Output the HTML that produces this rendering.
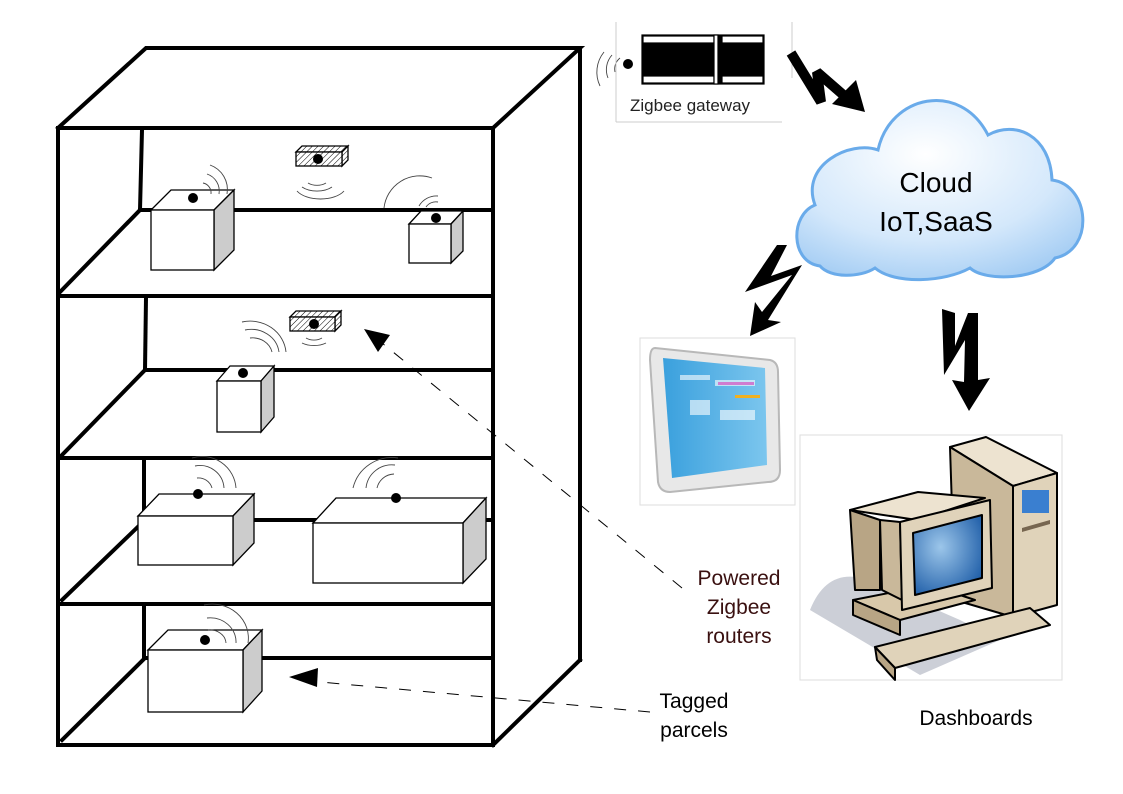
<!DOCTYPE html>
<html><head><meta charset="utf-8"><style>
html,body{margin:0;padding:0;background:#fff}
svg{display:block}
text{font-family:"Liberation Sans",sans-serif}
</style></head><body>
<svg width="1123" height="794" viewBox="0 0 1123 794" xmlns="http://www.w3.org/2000/svg">
<defs>
<pattern id="h" width="4" height="4" patternUnits="userSpaceOnUse" patternTransform="rotate(45)"><rect width="4" height="4" fill="#fff"/><line x1="0" y1="0" x2="0" y2="4" stroke="#000" stroke-width="1"/></pattern>
<radialGradient id="cg" cx="0.45" cy="0.3" r="0.8"><stop offset="0" stop-color="#ffffff"/><stop offset="0.6" stop-color="#d4e8fb"/><stop offset="1" stop-color="#9cc8f2"/></radialGradient>
<radialGradient id="sg" cx="0.4" cy="0.4" r="0.7"><stop offset="0" stop-color="#9cc6ea"/><stop offset="1" stop-color="#1f5ea8"/></radialGradient>
<linearGradient id="tg" x1="0" x2="1"><stop offset="0" stop-color="#3aa0dd"/><stop offset="1" stop-color="#7cc6ee"/></linearGradient>
</defs>

<g stroke="#000" stroke-width="4" fill="none" stroke-linecap="square">
<rect x="58" y="128" width="435" height="617"/>
<polyline points="58,128 146,48 580,48 493,128"/>
<line x1="580" y1="48" x2="580" y2="660"/>
<line x1="580" y1="660" x2="493" y2="745"/>
<line x1="58" y1="296" x2="493" y2="296"/>
<line x1="58" y1="458" x2="493" y2="458"/>
<line x1="58" y1="604" x2="493" y2="604"/>
<line x1="140" y1="210" x2="493" y2="210"/>
<line x1="145" y1="370" x2="493" y2="370"/>
<line x1="145" y1="520" x2="493" y2="520"/>
<line x1="145" y1="658" x2="493" y2="658"/>
<line x1="142" y1="130" x2="140" y2="210"/>
<line x1="146" y1="298" x2="145" y2="370"/>
<line x1="144" y1="461" x2="144" y2="520"/>
<line x1="144" y1="607" x2="144" y2="658"/>
<line x1="60" y1="292" x2="140" y2="210"/>
<line x1="62" y1="455" x2="145" y2="370"/>
<line x1="62" y1="600" x2="145" y2="520"/>
<line x1="62" y1="740" x2="145" y2="658"/>
</g>

<g stroke="#000" stroke-width="1.3">
<polygon points="151,210 171,190 234,190 214,210" fill="#fff"/>
<polygon points="214,210 234,190 234,250 214,270" fill="#ccc"/>
<rect x="151" y="210" width="63" height="60" fill="#fff"/>
<polygon points="409,224 421,211 463,211 451,224" fill="#fff"/>
<polygon points="451,224 463,211 463,251 451,263" fill="#ccc"/>
<rect x="409" y="224" width="42" height="39" fill="#fff"/>
<polygon points="217,381 230,366 274,366 261,381" fill="#fff"/>
<polygon points="261,381 274,366 274,417 261,432" fill="#ccc"/>
<rect x="217" y="381" width="44" height="51" fill="#fff"/>
<polygon points="138,516 159,494 254,494 233,516" fill="#fff"/>
<polygon points="233,516 254,494 254,543 233,565" fill="#ccc"/>
<rect x="138" y="516" width="95" height="49" fill="#fff"/>
<polygon points="313,523 336,498 486,498 463,523" fill="#fff"/>
<polygon points="463,523 486,498 486,559 463,583" fill="#ccc"/>
<rect x="313" y="523" width="150" height="60" fill="#fff"/>
<polygon points="148,650 168,630 262,630 243,650" fill="#fff"/>
<polygon points="243,650 262,630 262,691 243,712" fill="#ccc"/>
<rect x="148" y="650" width="95" height="62" fill="#fff"/>
<polygon points="296,152 302,146 348,146 342,152" fill="url(#h)"/>
<polygon points="342,152 348,146 348,160 342,166" fill="url(#h)"/>
<rect x="296" y="152" width="46" height="14" fill="url(#h)"/>
<polygon points="290,317 296,311 341,311 335,317" fill="url(#h)"/>
<polygon points="335,317 341,311 341,325 335,331" fill="url(#h)"/>
<rect x="290" y="317" width="45" height="14" fill="url(#h)"/>
</g>
<g fill="#000">
<circle cx="193" cy="198" r="5"/><circle cx="436" cy="218" r="5"/>
<circle cx="243" cy="373" r="5"/><circle cx="198" cy="494" r="5"/>
<circle cx="396" cy="498" r="5"/><circle cx="205" cy="640" r="5"/>
<circle cx="318" cy="159" r="5"/><circle cx="314" cy="324" r="5"/>
<circle cx="628" cy="64" r="5"/>
</g>
<g stroke="#444" stroke-width="0.9" fill="none">
<path d="M203 183 A10 10 0 0 1 211 194"/><path d="M207 174 A18 18 0 0 1 219 194"/><path d="M210 165 A26 26 0 0 1 227 194"/>
<path d="M308 183 A14 10 0 0 0 326 183"/><path d="M302 187 A20 12 0 0 0 332 187"/><path d="M297 191 A26 14 0 0 0 344 191"/>
<path d="M426 207 A12 12 0 0 1 438 202"/><path d="M419 206 A20 20 0 0 1 438 196"/><path d="M384 208 A36 36 0 0 1 432 178"/>
<path d="M250 338 A20 18 0 0 1 272 352"/><path d="M245 330 A28 26 0 0 1 279 352"/><path d="M242 322 A36 34 0 0 1 286 352"/>
<path d="M306 338 A12 8 0 0 0 322 338"/><path d="M302 343 A18 10 0 0 0 326 343"/>
<path d="M197 478 A14 14 0 0 1 212 488"/><path d="M195 466 A24 24 0 0 1 224 488"/><path d="M192 458 A34 34 0 0 1 236 488"/>
<path d="M377 488 A18 18 0 0 1 394 474"/><path d="M366 488 A26 26 0 0 1 395 465"/><path d="M353 488 A40 40 0 0 1 398 458"/>
<path d="M208 630 A16 14 0 0 1 226 643"/><path d="M207 618 A26 24 0 0 1 236 643"/><path d="M204 605 A36 34 0 0 1 248 643"/>
<path d="M615 72 A14 14 0 0 1 620 58"/><path d="M608 78 A22 22 0 0 1 612 55"/><path d="M600 86 A32 32 0 0 1 604 52"/>
</g>

<g stroke="#000" stroke-width="1" stroke-dasharray="12,12" fill="none">
<line x1="682" y1="588" x2="382" y2="343"/>
<line x1="650" y1="712" x2="320" y2="682"/>
</g>
<polygon points="364,329 390,335 378,352" fill="#000"/>
<polygon points="289,677 318,668 317,687" fill="#000"/>

<line x1="616" y1="22" x2="616" y2="122" stroke="#ccc" stroke-width="1"/>
<line x1="792" y1="22" x2="792" y2="78" stroke="#ccc" stroke-width="1"/>
<line x1="616" y1="122" x2="782" y2="122" stroke="#ccc" stroke-width="1"/>
<g stroke="#000" stroke-width="1.2">
<rect x="642" y="35" width="122" height="49" fill="#000"/>
<rect x="643" y="36" width="71" height="7" fill="#fff"/>
<rect x="722" y="36" width="41" height="7" fill="#fff"/>
<rect x="643" y="76" width="71" height="7" fill="#fff"/>
<rect x="722" y="76" width="41" height="7" fill="#fff"/>
<rect x="714" y="35" width="4" height="49" fill="#fff"/>
</g>
<text x="630" y="111" font-size="17" fill="#222">Zigbee gateway</text>

<polyline points="791,53 821,102 817,72 848,99" fill="none" stroke="#000" stroke-width="10" stroke-linejoin="bevel"/>
<polygon points="856,80 865,112 832,104" fill="#000"/>
<polygon points="777,245 787,245 771,276 802,265 768,320 781,322 750,336 755,302 762,312 792,275 745,292" fill="#000"/>
<polygon points="942,309 955,313 955,346 968,313 978,313 978,380 990,378 969,411 952,380 964,382 965,340 944,375" fill="#000"/>

<path d="M820,266 C790,262 790,215 815,205 C800,165 850,140 878,150 C890,95 960,80 988,135 C1015,120 1050,135 1052,180 C1090,185 1095,250 1055,258 C1040,280 985,282 970,268 C945,282 895,285 875,268 C860,278 830,278 820,266 Z" fill="url(#cg)" stroke="#6aabea" stroke-width="3"/>
<text x="936" y="192" font-size="28" text-anchor="middle" fill="#000">Cloud</text>
<text x="936" y="231" font-size="28" text-anchor="middle" fill="#000">IoT,SaaS</text>

<rect x="640" y="338" width="155" height="167" fill="#fff" stroke="#ddd" stroke-width="1"/>
<path d="M655,348 L770,360 Q778,362 778,372 L780,470 Q780,482 768,482 L670,492 Q660,492 658,482 L650,360 Q650,348 655,348 Z" fill="#e8e8e8" stroke="#b8b8b8" stroke-width="2"/>
<path d="M663,358 L765,368 L767,465 L672,478 Z" fill="url(#tg)"/>
<g fill="#fff" opacity="0.6"><rect x="680" y="375" width="30" height="5"/><rect x="715" y="380" width="40" height="6"/><rect x="690" y="400" width="20" height="15"/><rect x="720" y="410" width="35" height="10"/></g>
<rect x="718" y="382" width="36" height="3" fill="#d07cd0"/>
<rect x="735" y="395" width="25" height="3" fill="#f0b020"/>

<rect x="800" y="435" width="262" height="245" fill="#fff" stroke="#ddd" stroke-width="1"/>
<path d="M810,610 Q830,560 880,585 L960,620 L1000,640 L920,675 Z" fill="#9aa0b0" opacity="0.5"/>
<g stroke="#000" stroke-width="2" stroke-linejoin="round">
<polygon points="950,447 986,437 1057,473 1013,486" fill="#ede3d0"/>
<polygon points="950,447 1013,486 1013,617 955,600" fill="#c9b89a"/>
<polygon points="1013,486 1057,473 1057,605 1013,617" fill="#e0d3ba"/>
<polygon points="850,510 918,492 985,498 917,520" fill="#ede3d0"/>
<polygon points="850,510 880,520 880,590 855,590" fill="#b8a585"/>
<polygon points="853,600 930,585 975,600 900,620" fill="#d8c8aa"/>
<polygon points="853,600 900,620 900,635 853,615" fill="#b8a585"/>
<polygon points="880,520 900,522 902,600 882,590" fill="#c9b89a"/>
<polygon points="900,522 990,500 992,588 902,610" fill="#e0d3ba"/>
<polygon points="913,533 982,515 982,578 915,595" fill="url(#sg)"/>
<polygon points="875,647 1030,608 1050,625 895,668" fill="#e0d3ba"/>
<polygon points="875,647 895,668 895,680 877,660" fill="#b8a585"/>
</g>
<rect x="1022" y="490" width="27" height="23" fill="#3a7fd0"/>
<polygon points="1022,528 1050,520 1050,524 1022,532" fill="#776650"/>

<g font-size="21" fill="#000">
<text x="739" y="585" text-anchor="middle" fill="#3a1010">Powered</text>
<text x="739" y="614" text-anchor="middle" fill="#3a1010">Zigbee</text>
<text x="739" y="643" text-anchor="middle" fill="#3a1010">routers</text>
<text x="694" y="708" text-anchor="middle">Tagged</text>
<text x="694" y="737" text-anchor="middle">parcels</text>
<text x="976" y="725" text-anchor="middle">Dashboards</text>
</g>
</svg>
</body></html>
